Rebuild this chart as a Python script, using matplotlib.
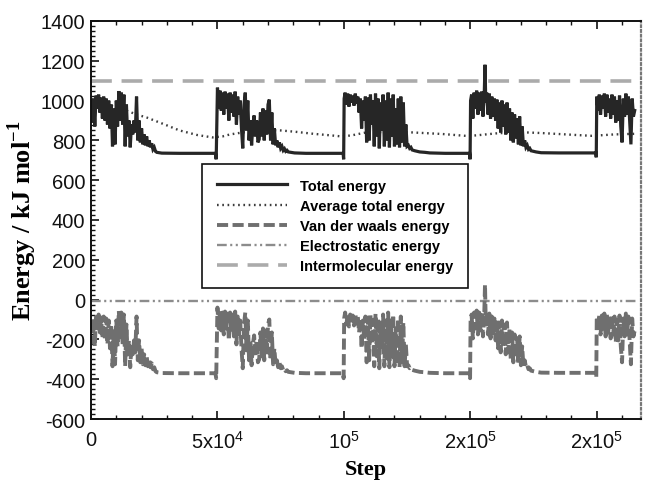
import numpy as np
import matplotlib
matplotlib.use("Agg")
import matplotlib.pyplot as plt
from matplotlib.ticker import MultipleLocator, FixedLocator, FixedFormatter

plt.rcParams['axes.unicode_minus'] = False
plt.rcParams['mathtext.fontset'] = 'custom'
plt.rcParams['mathtext.rm'] = 'Liberation Sans'
plt.rcParams['mathtext.bf'] = 'Liberation Serif:bold'
plt.rcParams['lines.scale_dashes'] = False

# ---------------- data (steps in thousands) ----------------
steps_k = [
    # cycle 1
    0, 0.5, 1.0, 1.5, 2.0, 2.5, 3.0, 3.5, 4.0, 4.5, 5.0, 5.5, 6.0, 6.5, 7.0, 7.5, 8.0, 8.5, 9.0, 9.5,
    10.0, 10.5, 11.0, 11.5, 12.0, 12.5, 13.0, 13.5, 14.0, 14.5, 15.0, 15.5, 16.0, 16.5, 17.0, 17.5,
    18.0, 18.5, 19.0, 19.5, 20.0, 20.5, 21.0, 21.5, 22.0, 22.5, 23.0, 23.5, 24.0, 24.5, 25.0, 25.5, 26.0,
    28, 35, 42, 49.2,
    # cycle 2
    49.5, 50.0, 50.5, 51.0, 51.5, 52.0, 52.5, 53.0, 53.5, 54.0, 54.5, 55.0, 55.5, 56.0, 56.5, 57.0,
    57.5, 58.0, 58.5, 59.0, 59.5, 60.0, 60.5, 61.0, 61.5, 62.0, 62.5, 63.0, 63.5, 64.0, 64.5, 65.0,
    65.5, 66.0, 66.5, 67.0, 67.5, 68.0, 68.5, 69.0, 69.5, 70.0, 70.5, 71.0, 71.5, 72.0, 72.5, 73.0,
    73.5, 74.0, 74.5, 75.0, 75.5, 76.0, 76.5, 77.0, 77.5, 78.0, 79.0, 80.5, 85, 92, 99.7, 99.9,
    # cycle 3
    100.1, 100.5, 101.0, 101.5, 102.0, 102.5, 103.0, 103.5, 104.0, 104.5, 105.0, 105.5, 106.0, 106.5,
    107.0, 107.5, 108.0, 108.5, 109.0, 109.5, 110.0, 110.5, 111.0, 111.5, 112.0, 112.5, 113.0, 113.5,
    114.0, 114.5, 115.0, 115.5, 116.0, 116.5, 117.0, 117.5, 118.0, 118.5, 119.0, 119.5, 120.0, 120.5,
    121.0, 121.5, 122.0, 122.5, 123.0, 123.5, 124.0, 124.5, 125.0, 125.5, 126.0, 126.5, 127.0, 128.0,
    129.0, 130.0, 132.0, 134.0, 140.0, 149.7, 149.9,
    # cycle 4
    150.1, 150.5, 151.0, 151.5, 152.0, 152.5, 153.0, 153.5, 154.0, 154.5, 155.0, 155.5, 155.8, 156.1,
    156.5, 157.0, 157.5, 158.0, 158.5, 159.0, 159.5, 160.0, 160.5, 161.0, 161.5, 162.0, 162.5, 163.0,
    163.5, 164.0, 164.5, 165.0, 165.5, 166.0, 166.5, 167.0, 167.5, 168.0, 168.5, 169.0, 169.5, 170.0,
    170.5, 171.0, 171.5, 172.0, 172.5, 173.0, 173.5, 174.0, 175.0, 176.0, 178.0, 185.0, 192.0, 199.6, 199.8,
    # cycle 5
    200.0, 200.5, 201.0, 201.5, 202.0, 202.5, 203.0, 203.5, 204.0, 204.5, 205.0, 205.5, 206.0, 206.5,
    207.0, 207.5, 208.0, 208.5, 209.0, 209.5, 210.0, 210.5, 211.0, 211.5, 212.0, 212.5, 213.0, 213.5,
    214.0, 214.5, 215.0,
]

total_energy = [
    # cycle 1
    1000, 890, 1010, 870, 1025, 960, 1030, 940, 1015, 910, 1020, 900, 1010, 880, 1000, 860, 980, 770, 960, 780,
    1000, 870, 1048, 900, 1040, 880, 1030, 770, 980, 820, 900, 765, 880, 830, 900, 840,
    1020, 800, 900, 790, 860, 780, 830, 775, 820, 770, 800, 765, 785, 755, 765, 745, 740,
    736, 735, 735, 735,
    # cycle 2
    705, 1065, 960, 1050, 950, 1040, 930, 1045, 960, 1035, 900, 1040, 940, 1030, 920, 1045,
    880, 1020, 930, 1000, 860, 760, 980, 1040, 850, 1000, 800, 900, 775, 880, 925, 820,
    900, 790, 805, 940, 820, 960, 800, 950, 830, 980, 1005, 800, 940, 780, 860, 775,
    800, 765, 790, 760, 770, 750, 758, 745, 750, 742, 740, 737, 735, 735, 735, 705,
    # cycle 3
    1010, 1040, 980, 1035, 970, 1030, 990, 1025, 975, 1035, 985, 1020, 940, 1010,
    860, 1000, 900, 1020, 790, 1015, 800, 1030, 880, 1000, 770, 1035, 820, 1010,
    760, 990, 850, 1030, 770, 1000, 800, 1040, 765, 1010, 820, 1030, 770, 960,
    780, 1010, 765, 1020, 790, 990, 770, 880, 770, 775, 760, 765, 752, 748,
    745, 742, 740, 737, 735, 735, 705,
    # cycle 4
    1000, 1030, 910, 1040, 960, 1050, 930, 1040, 950, 1045, 920, 1030, 1180, 990,
    1040, 930, 1035, 910, 1020, 920, 1010, 900, 1005, 860, 990, 840, 1000, 870,
    980, 830, 990, 840, 960, 800, 940, 790, 930, 810, 910, 780, 920, 775,
    870, 770, 800, 765, 775, 755, 760, 748, 745, 742, 738, 737, 737, 737, 715,
    # cycle 5
    1020, 950, 1030, 930, 1025, 960, 1035, 920, 1030, 940, 1010, 910, 1030, 930,
    1020, 890, 1000, 900, 1025, 870, 790, 1010, 920, 1035, 930, 1020, 900, 780,
    1010, 920, 950,
]

vdw_energy = [
    # cycle 1
    -105, -215, -95, -235, -80, -145, -75, -165, -90, -195, -85, -205, -95, -225, -105, -245, -125, -335, -145, -325,
    -105, -235, -57, -205, -65, -225, -75, -335, -125, -285, -205, -340, -225, -275, -205, -265,
    -85, -305, -205, -315, -245, -325, -275, -330, -285, -335, -305, -340, -320, -350, -340, -360, -365,
    -369, -370, -370, -370,
    # cycle 2
    -395, -40, -145, -55, -155, -65, -175, -60, -145, -70, -205, -65, -165, -75, -185, -60,
    -225, -85, -175, -105, -245, -345, -125, -65, -255, -105, -305, -205, -330, -225, -180, -285,
    -205, -315, -300, -165, -285, -145, -305, -155, -275, -125, -100, -305, -165, -325, -245, -330,
    -305, -340, -315, -345, -335, -355, -347, -360, -355, -363, -365, -368, -370, -370, -370, -395,
    # cycle 3
    -95, -65, -125, -70, -135, -75, -115, -80, -130, -70, -120, -85, -165, -95,
    -245, -105, -205, -85, -315, -90, -305, -75, -225, -105, -335, -70, -285, -95,
    -345, -115, -255, -75, -335, -105, -305, -65, -340, -95, -285, -75, -335, -145,
    -325, -95, -340, -85, -315, -115, -335, -225, -335, -330, -345, -340, -353, -357,
    -360, -363, -365, -368, -370, -370, -395,
    # cycle 4
    -105, -75, -195, -65, -145, -55, -175, -65, -155, -60, -185, -75, 75, -115,
    -65, -175, -70, -195, -85, -185, -95, -205, -100, -245, -115, -265, -105, -235,
    -125, -275, -115, -265, -145, -305, -165, -315, -175, -295, -195, -325, -185, -330,
    -235, -335, -305, -340, -330, -350, -345, -357, -360, -363, -367, -368, -368, -368, -390,
    # cycle 5
    -85, -155, -75, -175, -80, -145, -70, -185, -75, -165, -95, -195, -75, -175,
    -85, -215, -105, -205, -80, -235, -315, -95, -185, -70, -175, -85, -205, -325,
    -95, -185, -155,
]

avg_steps_k = [0, 5, 10, 15, 18, 22, 28.5, 35, 42, 48, 52, 55, 60, 65, 70, 75, 81, 88, 95, 99,
               103, 108, 115, 122, 127, 133, 139, 145, 149, 153, 160, 167, 172, 178, 185, 192,
               198, 202, 207, 212, 215]
avg_total_energy = [1000, 985, 965, 945, 930, 915, 883, 850, 827, 815, 820, 830, 840, 848, 852, 850,
                    843, 833, 825, 820, 825, 838, 842, 842, 840, 836, 832, 826, 822, 826, 835, 840,
                    840, 837, 832, 827, 823, 826, 830, 832, 833]

elec_steps_k = [0, 50, 100, 150, 200, 216]
elec_energy = [-5, -5, -5, -5, -5, -5]

inter_steps_k = [0, 216]
inter_energy = [1100, 1100]

x_ticks = [0, 50000, 100000, 150000, 200000]
x_tick_labels = ['0', '5x10$^4$', '10$^5$', '2x10$^5$', '2x10$^5$']
y_ticks = [-600, -400, -200, 0, 200, 400, 600, 800, 1000, 1200, 1400]
y_tick_labels = ['-600', '-400', '-200', '0', '200', '400', '600', '800', '1000', '1200', '1400']

series_names = ['Total energy', 'Average total energy', 'Van der waals energy',
                'Electrostatic energy', 'Intermolecular energy']

# ---------------- plotting ----------------
fig = plt.figure(figsize=(6.46, 4.81), dpi=100)
ax = fig.add_axes([0.1409, 0.1268, 0.8514, 0.8275])

steps = np.array(steps_k) * 1000

h_inter, = ax.plot(np.array(inter_steps_k) * 1000, inter_energy, color='#ababab', lw=2.6,
                   dashes=(15, 7), label=series_names[4])
h_elec, = ax.plot(np.array(elec_steps_k) * 1000, elec_energy, color='#8c8c8c', lw=1.7,
                  dashes=(7, 2.5, 1.5, 2.5, 1.5, 2.5), label=series_names[3])
h_avg, = ax.plot(np.array(avg_steps_k) * 1000, avg_total_energy, color='#3c3c3c', lw=1.7,
                 dashes=(1.2, 2.6), label=series_names[1])
h_vdw, = ax.plot(steps, vdw_energy, color='#6f6f6f', lw=2.8, dashes=(8, 3.2),
                 label=series_names[2])
h_tot, = ax.plot(steps, total_energy, color='#262626', lw=2.3, solid_joinstyle='miter',
                 label=series_names[0])

ax.set_xlim(0, 217500)
ax.set_ylim(-600, 1400)

ax.xaxis.set_major_locator(FixedLocator(x_ticks))
ax.xaxis.set_major_formatter(FixedFormatter(x_tick_labels))
ax.xaxis.set_minor_locator(MultipleLocator(10000))
ax.yaxis.set_major_locator(FixedLocator(y_ticks))
ax.yaxis.set_major_formatter(FixedFormatter(y_tick_labels))
ax.yaxis.set_minor_locator(MultipleLocator(25))

ax.tick_params(which='both', direction='in', top=True, right=False, bottom=True, left=True,
               color='#111111')
ax.tick_params(which='major', length=6, width=1.2)
ax.tick_params(which='minor', length=3, width=1.0)
ax.tick_params(axis='x', labelsize=14.5, pad=8)
ax.tick_params(axis='y', labelsize=14.5, pad=4)
for lab in ax.get_xticklabels() + ax.get_yticklabels():
    lab.set_fontfamily('Liberation Sans')
    lab.set_color('#111111')

for s in ['left', 'top', 'bottom']:
    ax.spines[s].set_linewidth(1.4)
    ax.spines[s].set_color('#111111')
ax.spines['right'].set_linestyle((0, (1.2, 2.2)))
ax.spines['right'].set_color('#777777')
ax.spines['right'].set_linewidth(1.6)

ax.set_xlabel('Step', fontfamily='Liberation Serif', fontweight='bold', fontsize=16, labelpad=5)
ax.set_ylabel('Energy / kJ mol$^{\\mathbf{-1}}$', fontfamily='Liberation Serif',
              fontweight='bold', fontsize=19, labelpad=1)

leg = ax.legend(handles=[h_tot, h_avg, h_vdw, h_elec, h_inter], loc='upper left',
                bbox_to_anchor=(0.2018, 0.6407), borderaxespad=0, frameon=True,
                fancybox=False, framealpha=1, edgecolor='#111111',
                prop={'family': 'Liberation Sans', 'weight': 'bold', 'size': 10.5},
                handlelength=4.8, handletextpad=0.9, labelspacing=0.42, borderpad=1.0)
leg.get_frame().set_linewidth(1.2)

fig.savefig('out.png', dpi=100)
